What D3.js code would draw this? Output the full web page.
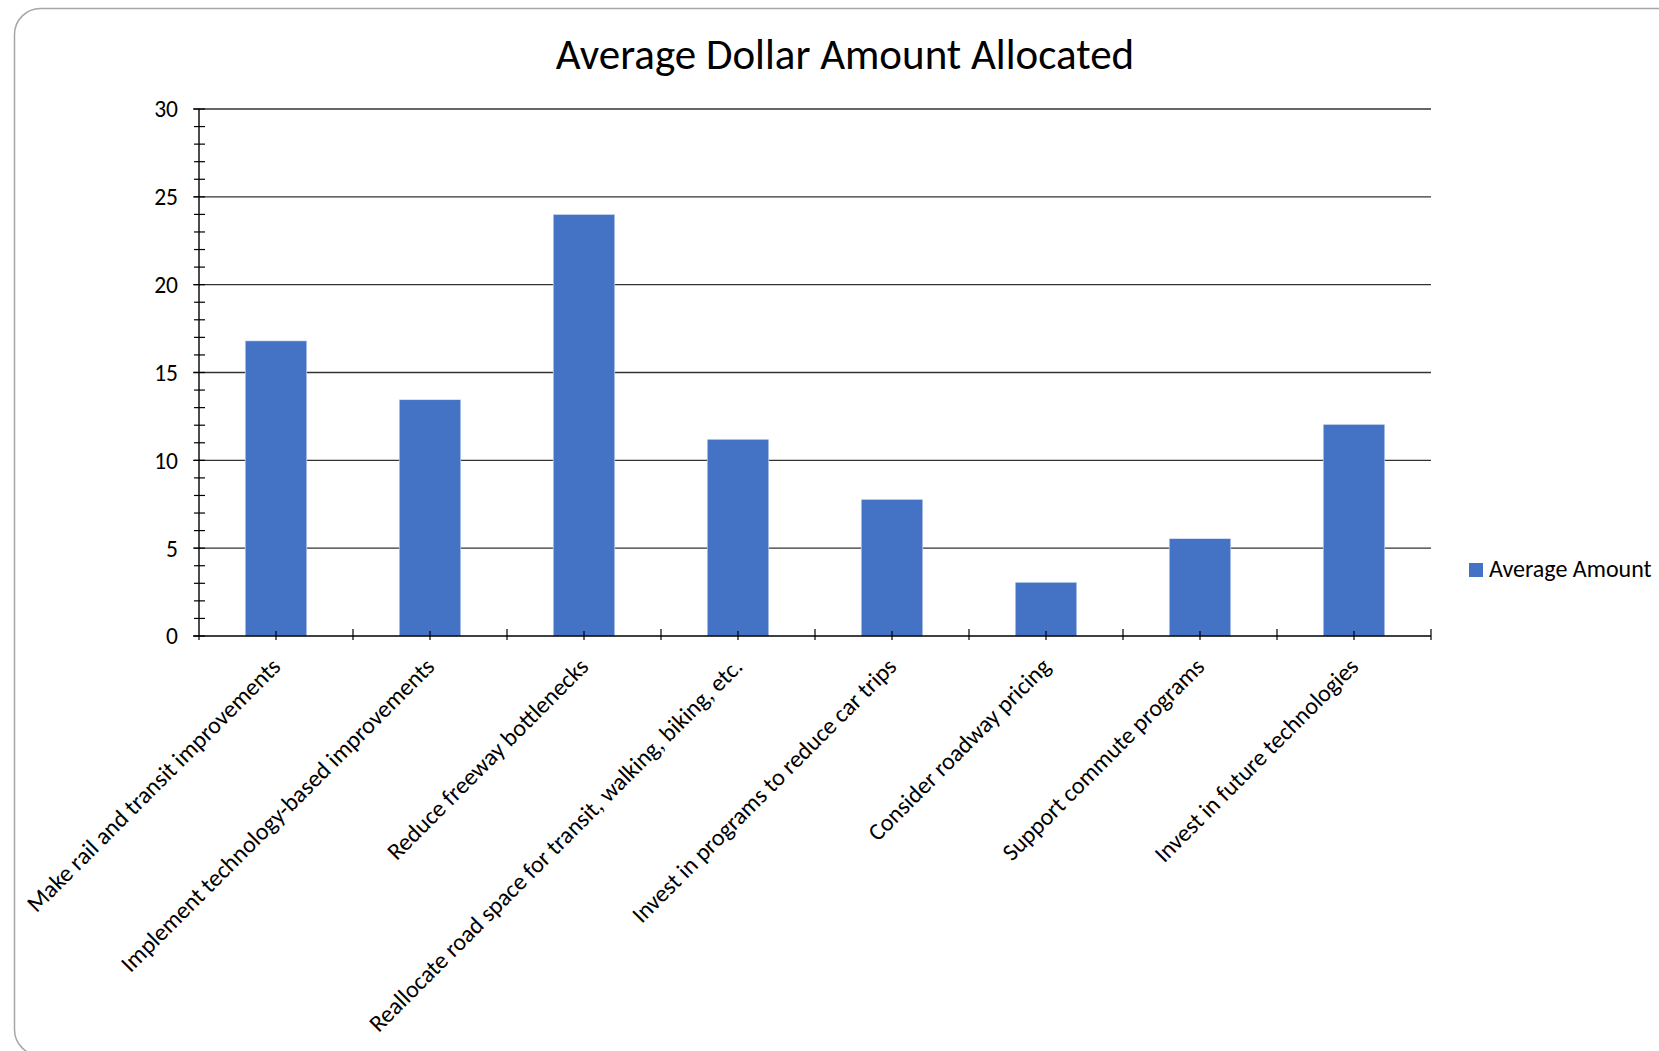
<!DOCTYPE html>
<html>
<head>
<meta charset="utf-8">
<script src="https://cdn.jsdelivr.net/npm/d3@7"></script>
<style>
  html, body { margin: 0; padding: 0; background: #fff; }
  svg { display: block; }
  text { font-family: Calibri, Carlito, Lato, "Open Sans", sans-serif; fill: #000; }
</style>
</head>
<body>
<svg id="chart" width="1659" height="1051"></svg>
<script>
// Chart content
const chartTitle = "Average Dollar Amount Allocated";
const seriesName = "Average Amount";
const categories = [
  "Make rail and transit improvements",
  "Implement technology-based improvements",
  "Reduce freeway bottlenecks",
  "Reallocate road space for transit, walking, biking, etc.",
  "Invest in programs to reduce car trips",
  "Consider roadway pricing",
  "Support commute programs",
  "Invest in future technologies"
];
const averageAmounts = [16.8, 13.45, 24.0, 11.2, 7.78, 3.06, 5.54, 12.05];
const yMajorTicks = [0, 5, 10, 15, 20, 25, 30];
const yMinorTicks = d3.range(0, 31, 1);

const svg = d3.select("#chart");
const plot = { left: 199, right: 1431, top: 109, bottom: 636 };
const barColor = "#4472C4";

// Rounded frame around the chart area
svg.append("rect")
  .attr("x", 14.5).attr("y", 8.5)
  .attr("width", 1720).attr("height", 1047)
  .attr("rx", 26).attr("ry", 26)
  .attr("fill", "#fff")
  .attr("stroke", "#a6a6a6").attr("stroke-width", 1.5);

// Scales
const x = d3.scaleBand().domain(categories).range([plot.left, plot.right]).paddingInner(0.6).paddingOuter(0.3);
const xb = d3.scaleBand().domain(categories).range([plot.left, plot.right]);
const y = d3.scaleLinear().domain([0, 30]).range([plot.bottom, plot.top]);

// Title
svg.append("text")
  .attr("x", 845).attr("y", 69)
  .attr("text-anchor", "middle")
  .style("font-size", "43px")
  .text(chartTitle);

// Horizontal gridlines at major ticks
svg.append("g").selectAll("line")
  .data(yMajorTicks.filter(d => d > 0))
  .join("line")
  .attr("x1", plot.left - 6).attr("x2", plot.right)
  .attr("y1", d => y(d)).attr("y2", d => y(d))
  .attr("stroke", "#333").attr("stroke-width", 1.4);

// Bars
svg.append("g").selectAll("rect")
  .data(categories)
  .join("rect")
  .attr("x", d => x(d))
  .attr("width", x.bandwidth())
  .attr("y", (d, i) => y(averageAmounts[i]))
  .attr("height", (d, i) => y(0) - y(averageAmounts[i]))
  .attr("fill", barColor)
  .attr("stroke", "#dfe7f5").attr("stroke-width", 0.6);

// Y axis: line, minor ticks, labels
const yAxis = svg.append("g");
yAxis.append("line")
  .attr("x1", plot.left).attr("x2", plot.left)
  .attr("y1", plot.top).attr("y2", plot.bottom)
  .attr("stroke", "#000").attr("stroke-width", 1.4);
yAxis.selectAll("line.minor")
  .data(yMinorTicks)
  .join("line").attr("class", "minor")
  .attr("x1", plot.left - 5).attr("x2", plot.left + 6)
  .attr("y1", d => y(d)).attr("y2", d => y(d))
  .attr("stroke", "#000").attr("stroke-width", 1.2);
yAxis.selectAll("text")
  .data(yMajorTicks)
  .join("text")
  .attr("x", 178).attr("y", d => y(d))
  .attr("dy", "0.36em")
  .attr("text-anchor", "end")
  .style("font-size", "23.5px")
  .text(d => d);

// X axis: baseline, boundary ticks, center ticks, rotated labels
const xAxis = svg.append("g");
xAxis.append("line")
  .attr("x1", plot.left - 6).attr("x2", plot.right)
  .attr("y1", plot.bottom).attr("y2", plot.bottom)
  .attr("stroke", "#000").attr("stroke-width", 1.4);
xAxis.selectAll("line.bound")
  .data(categories)
  .join("line").attr("class", "bound")
  .attr("x1", d => xb(d) + xb.bandwidth()).attr("x2", d => xb(d) + xb.bandwidth())
  .attr("y1", plot.bottom - 7).attr("y2", plot.bottom + 4)
  .attr("stroke", "#000").attr("stroke-width", 1.2);
xAxis.selectAll("line.center")
  .data(categories)
  .join("line").attr("class", "center")
  .attr("x1", d => xb(d) + xb.bandwidth() / 2).attr("x2", d => xb(d) + xb.bandwidth() / 2)
  .attr("y1", plot.bottom - 5).attr("y2", plot.bottom + 4)
  .attr("stroke", "#000").attr("stroke-width", 1.2);
xAxis.append("line")
  .attr("x1", plot.left).attr("x2", plot.left)
  .attr("y1", plot.bottom).attr("y2", plot.bottom + 4)
  .attr("stroke", "#000").attr("stroke-width", 1.2);
xAxis.selectAll("text")
  .data(categories)
  .join("text")
  .attr("text-anchor", "end")
  .attr("transform", d => `translate(${xb(d) + xb.bandwidth() / 2 + 6},${plot.bottom + 32}) rotate(-45)`)
  .style("font-size", "24px")
  .text(d => d);

// Legend
const legend = svg.append("g");
legend.append("rect")
  .attr("x", 1469).attr("y", 563)
  .attr("width", 14).attr("height", 14)
  .attr("fill", barColor);
legend.append("text")
  .attr("x", 1489).attr("y", 577)
  .style("font-size", "24px")
  .text(seriesName);
</script>
</body>
</html>
